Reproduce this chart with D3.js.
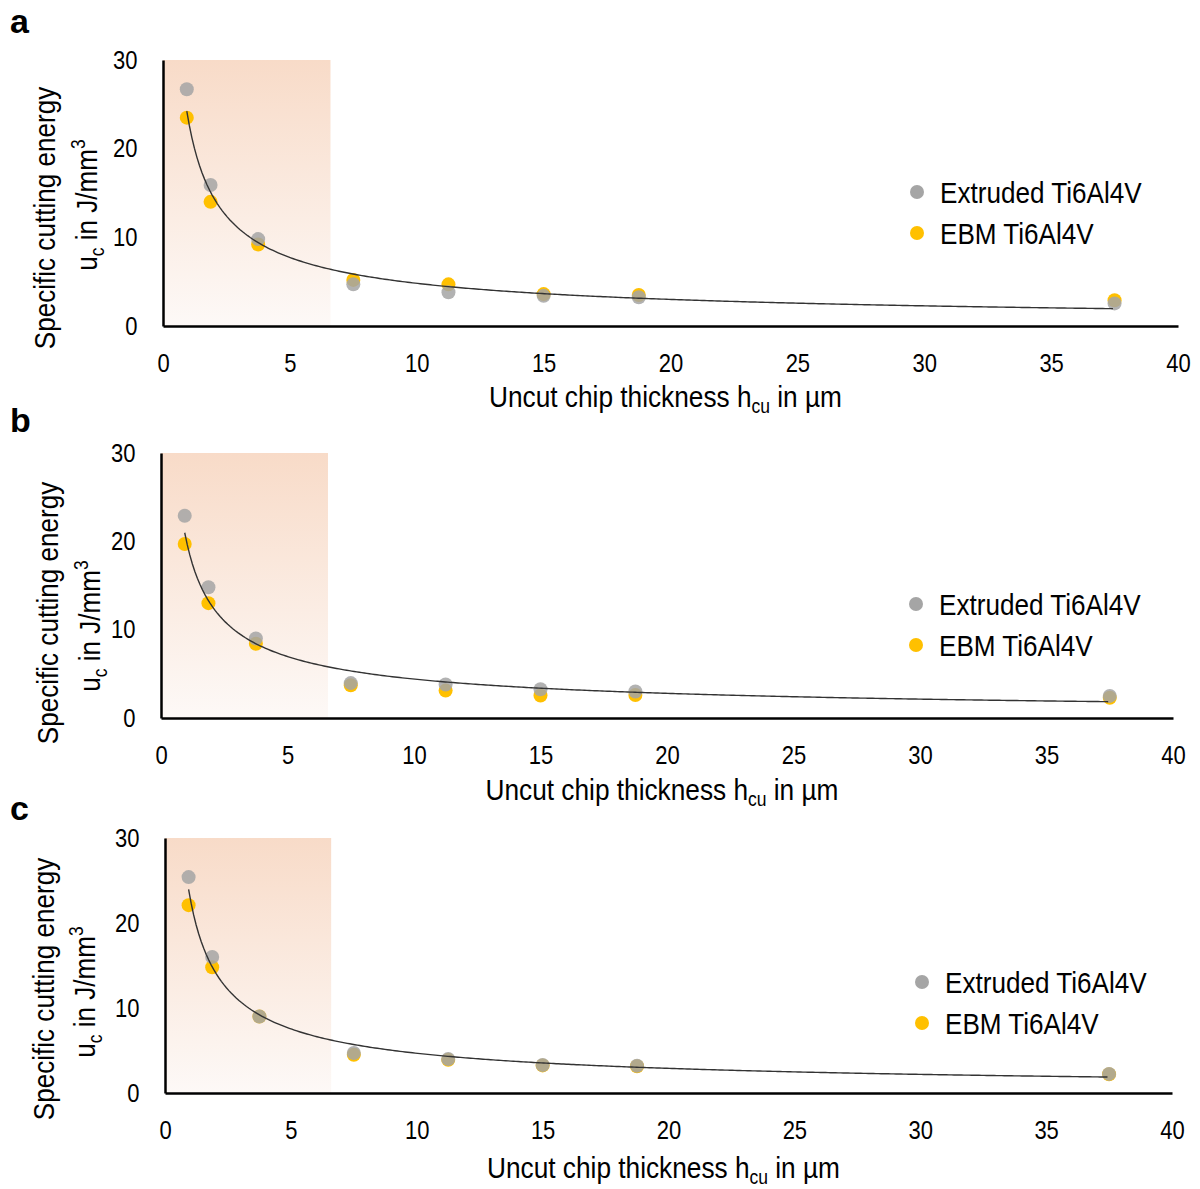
<!DOCTYPE html>
<html>
<head>
  <title>Specific cutting energy</title>
  <script src="https://d3js.org/d3.v7.min.js"></script>
  <style>
    body { margin: 0; background: #fff; }
    text { font-family: "Liberation Sans", Arial, sans-serif; fill: #000; }
  </style>
</head>
<body>
<svg width="1200" height="1189"></svg>
<script>
  // uncut chip thickness (µm), same for every panel
  const hcu = [0.9375, 1.875, 3.75, 7.5, 11.25, 15, 18.75, 37.5];

  // specific cutting energy (J/mm³)
  const extrudedA = [26.7, 15.9, 9.8, 4.7, 3.8, 3.4, 3.25, 2.55];
  const ebmA      = [23.5, 14.0, 9.2, 5.2, 4.7, 3.6, 3.5, 2.9];
  const extrudedB = [22.9, 14.8, 9.0, 3.95, 3.8, 3.25, 3.0, 2.5];
  const ebmB      = [19.7, 13.0, 8.4, 3.7, 3.1, 2.55, 2.6, 2.3];
  const extrudedC = [25.4, 16.0, 9.0, 4.7, 4.0, 3.3, 3.2, 2.25];
  const ebmC      = [22.1, 14.8, 9.0, 4.5, 3.9, 3.25, 3.15, 2.2];

  // power trendline u = k * h^n, coefficients
  const trendK = [23.2, 20.1, 22.9];
  const trendN = [-0.683, -0.659, -0.69];

  const shadeLimit = 6.6;   // end of the shaded low-thickness zone (µm)
  const xTicks = [0, 5, 10, 15, 20, 25, 30, 35, 40];
  const yTicks = [0, 10, 20, 30];
  const seriesNames = ["Extruded Ti6Al4V", "EBM Ti6Al4V"];
  const panelLetters = ["a", "b", "c"];

  const grey = "#a5a5a5", gold = "#ffc000";

  // layout per panel
  const panels = [
    { ext: extrudedA, ebm: ebmA, left: 163, right: 1178, top: 60,  bottom: 326,
      letterY: 33,  titleY: 407,  yl1: 55, yl2: 97,  yc1: 218, yc2: 205, legX: 917, legY: 192 },
    { ext: extrudedB, ebm: ebmB, left: 161, right: 1173, top: 453, bottom: 718,
      letterY: 432, titleY: 800,  yl1: 58, yl2: 100, yc1: 613, yc2: 626, legX: 916, legY: 604 },
    { ext: extrudedC, ebm: ebmC, left: 165, right: 1172, top: 838, bottom: 1093,
      letterY: 820, titleY: 1178, yl1: 54, yl2: 95,  yc1: 989, yc2: 992, legX: 922, legY: 982 }
  ];

  const svg = d3.select("svg");
  const defs = svg.append("defs");
  const grad = defs.append("linearGradient")
    .attr("id", "shade").attr("x1", 0).attr("y1", 0).attr("x2", 0).attr("y2", 1);
  grad.append("stop").attr("offset", "0%").attr("stop-color", "#f8dbc8");
  grad.append("stop").attr("offset", "100%").attr("stop-color", "#fdf9f7");

  panels.forEach((p, i) => {
    const x = d3.scaleLinear().domain([0, 40]).range([p.left, p.right]);
    const y = d3.scaleLinear().domain([0, 30]).range([p.bottom, p.top]);
    const g = svg.append("g");

    // shaded zone
    g.append("rect")
      .attr("x", x(0)).attr("y", y(30))
      .attr("width", x(shadeLimit) - x(0)).attr("height", y(0) - y(30))
      .attr("fill", "url(#shade)");

    // axes
    const xAxis = g.append("g")
      .attr("transform", `translate(0,${p.bottom})`)
      .call(d3.axisBottom(x).tickValues(xTicks).tickSize(0).tickPadding(28));
    const yAxis = g.append("g")
      .attr("transform", `translate(${p.left},0)`)
      .call(d3.axisLeft(y).tickValues(yTicks).tickSize(0).tickPadding(29));
    [xAxis, yAxis].forEach(a => {
      a.select(".domain").attr("stroke", "#000").attr("stroke-width", 2.5);
      a.selectAll("text")
        .style("font-family", '"Liberation Sans", Arial, sans-serif')
        .style("font-size", "25px").attr("fill", "#000")
        .attr("transform", "scale(0.88,1)");
    });

    // points: EBM first, extruded on top
    g.selectAll(".ebm").data(hcu).enter().append("circle")
      .attr("cx", d => x(d)).attr("cy", (d, j) => y(p.ebm[j]))
      .attr("r", 7).attr("fill", gold);
    g.selectAll(".ext").data(hcu).enter().append("circle")
      .attr("cx", d => x(d)).attr("cy", (d, j) => y(p.ext[j]))
      .attr("r", 7).attr("fill", grey).attr("fill-opacity", 0.85);

    // trendline
    const hs = d3.range(hcu[0], hcu[hcu.length - 1] + 0.01, 0.1);
    const line = d3.line().x(d => x(d)).y(d => y(trendK[i] * Math.pow(d, trendN[i])));
    g.append("path").datum(hs)
      .attr("d", line).attr("fill", "none")
      .attr("stroke", "#333").attr("stroke-width", 1.4);

    // panel letter
    g.append("text").attr("x", 10).attr("y", p.letterY)
      .style("font-size", "34px").style("font-weight", "bold").text(panelLetters[i]);

    // x title
    const xt = g.append("text")
      .attr("transform", `translate(${(p.left + p.right) / 2 - 5},${p.titleY}) scale(0.875,1)`)
      .attr("text-anchor", "middle").style("font-size", "30px");
    xt.append("tspan").text("Uncut chip  thickness h");
    xt.append("tspan").attr("dy", 6).style("font-size", "20px").text("cu");
    xt.append("tspan").attr("dy", -6).text(" in µm");

    // y title
    g.append("text")
      .attr("transform", `translate(${p.yl1},${p.yc1}) rotate(-90) scale(0.87,1)`)
      .attr("text-anchor", "middle").style("font-size", "30px")
      .text("Specific cutting energy");
    const yt = g.append("text")
      .attr("transform", `translate(${p.yl2},${p.yc2}) rotate(-90) scale(0.87,1)`)
      .attr("text-anchor", "middle").style("font-size", "30px");
    yt.append("tspan").text("u");
    yt.append("tspan").attr("dy", 7).style("font-size", "20px").text("c");
    yt.append("tspan").attr("dy", -7).text(" in J/mm");
    yt.append("tspan").attr("dy", -12).style("font-size", "20px").text("3");

    // legend
    [grey, gold].forEach((c, k) => {
      const ly = p.legY + k * 41;
      g.append("circle").attr("cx", p.legX).attr("cy", ly).attr("r", 7).attr("fill", c);
      g.append("text")
        .attr("transform", `translate(${p.legX + 23},${ly}) scale(0.87,1)`)
        .attr("dy", "0.36em").style("font-size", "30px").text(seriesNames[k]);
    });
  });
</script>
</body>
</html>
